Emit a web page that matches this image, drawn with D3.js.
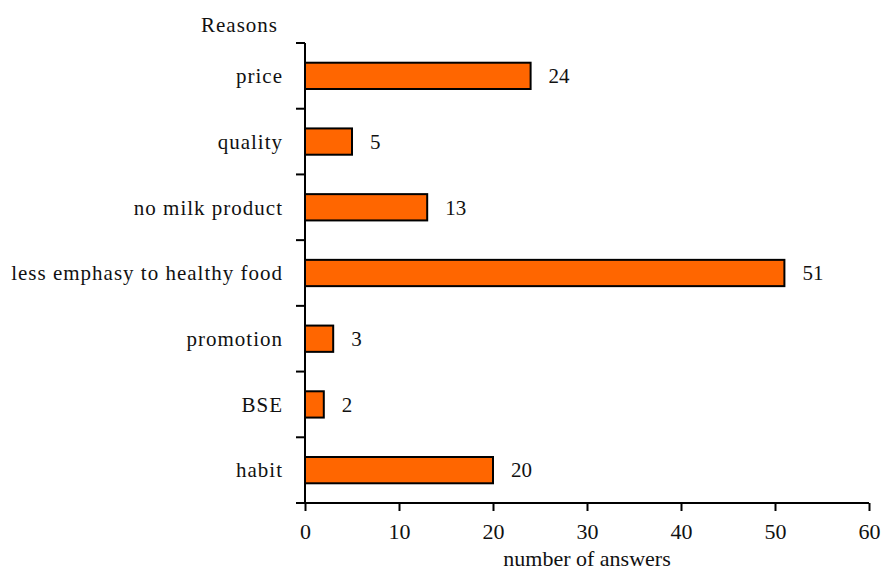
<!DOCTYPE html>
<html><head><meta charset="utf-8">
<script src="https://cdn.jsdelivr.net/npm/d3@7"></script>
<style>body{margin:0;background:#fff}svg{display:block}text{font-family:"Liberation Serif","Times New Roman",serif;fill:#111}</style>
</head><body>
<script>
const categories = ["price","quality","no milk product","less emphasy to healthy food","promotion","BSE","habit"];
const values = [24,5,13,51,3,2,20];
const xTicks = [0,10,20,30,40,50,60];

const W=881,H=572;
const svg=d3.select("body").append("svg").attr("width",W).attr("height",H);
const x=d3.scaleLinear().domain([0,60]).range([305,869]);
const y=d3.scaleBand().domain(categories).range([43,503]).paddingInner(0.6).paddingOuter(0.3);
const fs=21, ls=1;

svg.selectAll("rect.bar").data(categories).join("rect")
  .attr("x",x(0)).attr("y",d=>y(d))
  .attr("width",(d,i)=>x(values[i])-x(0)).attr("height",y.bandwidth())
  .attr("fill","#FF6600").attr("stroke","#000").attr("stroke-width",2);

svg.selectAll("text.val").data(categories).join("text")
  .attr("x",(d,i)=>x(values[i])+18).attr("y",d=>y(d)+y.bandwidth()/2)
  .attr("dy","0.35em").attr("font-size",fs).text((d,i)=>values[i]);

svg.append("line").attr("x1",305).attr("x2",305).attr("y1",43).attr("y2",503).attr("stroke","#000").attr("stroke-width",2);
const step=(503-43)/categories.length;
const bounds=d3.range(categories.length+1).map(i=>43+i*step);
svg.selectAll("line.yt").data(bounds).join("line")
  .attr("x1",296).attr("x2",305).attr("y1",d=>d).attr("y2",d=>d).attr("stroke","#000").attr("stroke-width",2);
svg.selectAll("text.cat").data(categories).join("text")
  .attr("x",282+ls).attr("y",d=>y(d)+y.bandwidth()/2).attr("dy","0.35em")
  .attr("text-anchor","end").attr("font-size",fs).attr("letter-spacing",ls).text(d=>d);

const xa=svg.append("g").attr("transform","translate(0,503)")
  .call(d3.axisBottom(x).tickValues(xTicks).tickSize(8).tickPadding(12).tickFormat(d3.format("d")));
xa.select(".domain").attr("stroke","#000").attr("stroke-width",2).attr("d","M296,0H869");
xa.selectAll(".tick line").attr("stroke","#000").attr("stroke-width",2);
xa.selectAll(".tick text").attr("font-size",22).attr("font-family",'"Liberation Serif",serif').attr("fill","#111");

svg.append("text").attr("x",587).attr("y",566).attr("text-anchor","middle").attr("font-size",22).text("number of answers");
svg.append("text").attr("x",239+ls/2).attr("y",31.5).attr("text-anchor","middle").attr("font-size",fs).attr("letter-spacing",ls).text("Reasons");
</script>
</body></html>
